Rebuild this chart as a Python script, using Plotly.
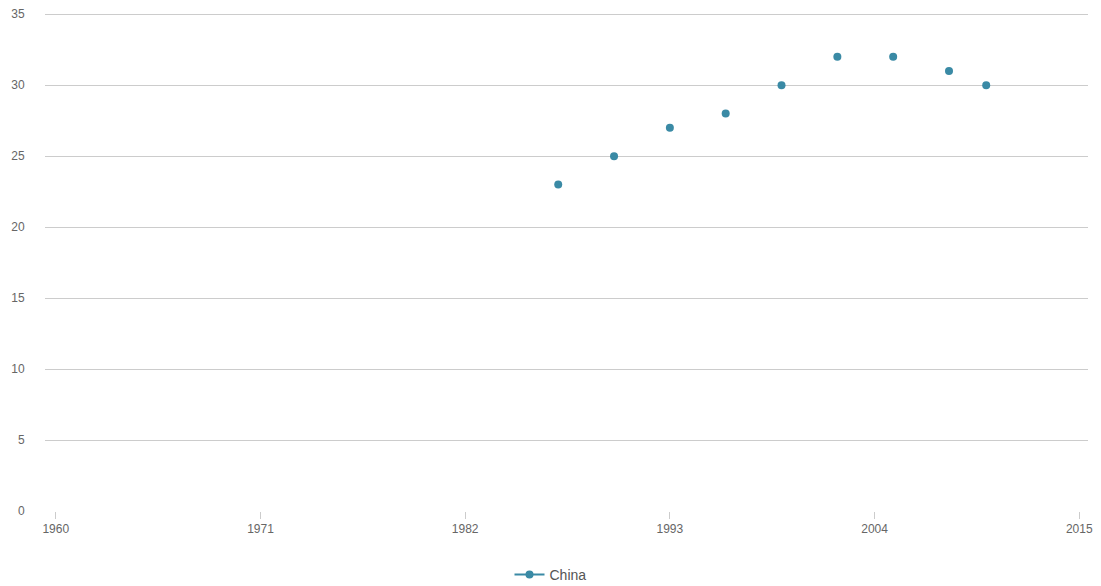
import plotly.graph_objects as go

# Data
all_years = list(range(1960, 2016))
obs_years = [1987, 1990, 1993, 1996, 1999, 2002, 2005, 2008, 2010]
obs_values = [23, 25, 27, 28, 30, 32, 32, 31, 30]
x_ticks = [1960, 1971, 1982, 1993, 2004, 2015]
y_ticks = [0, 5, 10, 15, 20, 25, 30, 35]
series_name = "China"

lookup = dict(zip(obs_years, obs_values))
values = [lookup.get(y) for y in all_years]

color = "#3a8aa5"

fig = go.Figure()
fig.add_trace(go.Scatter(
    x=all_years, y=values, name=series_name,
    mode="lines+markers", connectgaps=False,
    line=dict(color=color, width=2),
    marker=dict(color=color, size=8),
))

fig.update_layout(
    width=1101, height=586,
    margin=dict(l=45, r=13, t=10, b=75),
    paper_bgcolor="white", plot_bgcolor="white",
    font=dict(family="Liberation Sans, Arial, sans-serif", color="#666666", size=12),
    showlegend=True,
    legend=dict(orientation="h", x=0.5, xanchor="center", xref="container",
                y=(586 - 575) / 586, yanchor="middle", yref="container",
                font=dict(size=14, color="#555555")),
    xaxis=dict(range=[1959.42, 2015.47], tickvals=x_ticks, ticktext=[str(t) for t in x_ticks],
               showgrid=False, zeroline=False, showline=False, automargin=False,
               ticks="outside", ticklen=7, tickcolor="#cccccc", tickwidth=1),
    yaxis=dict(range=[0, 35.3], tickvals=y_ticks, showgrid=True, gridcolor="#cccccc", gridwidth=1,
               zeroline=False, showline=False, automargin=False,
               ticks="outside", ticklen=17, tickcolor="rgba(0,0,0,0)"),
)

fig.write_html("out.html", config={"displayModeBar": False},
               post_script="document.body.style.margin='0';document.body.style.overflow='hidden';")
